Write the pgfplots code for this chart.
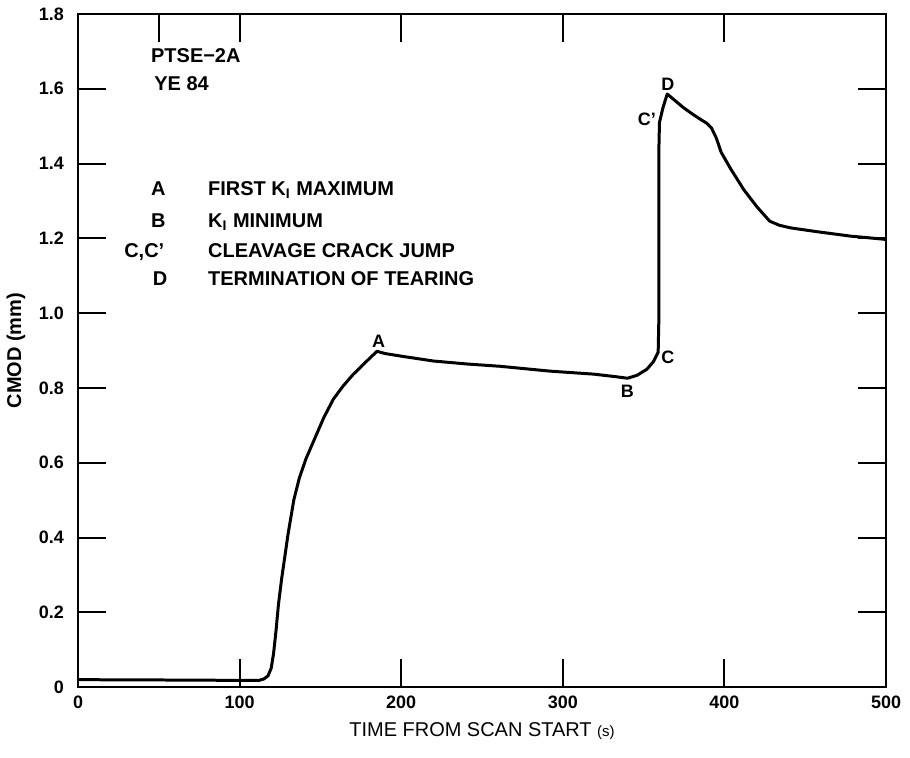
\documentclass[border=0pt]{standalone}
\usepackage{fontspec}
\setmainfont{Liberation Sans}
\usepackage{pgfplots}
\usepackage{pgfplotstable}
\pgfplotsset{compat=1.18}
\pgfplotstableread{
t v
0 0.02
60 0.019
105 0.018
112 0.018
115 0.022
117.5 0.03
119.5 0.05
121 0.09
122.5 0.15
124 0.22
126 0.29
128 0.35
130 0.41
133.5 0.50
137 0.56
141 0.61
146 0.66
152 0.72
158 0.77
164 0.805
170 0.835
177 0.865
185 0.898
190 0.892
200 0.885
220 0.872
241 0.864
261 0.858
292 0.845
319 0.837
333 0.830
340 0.826
346 0.834
352 0.850
356 0.870
359 0.896
359.5 1.00
359.5 1.45
359.8 1.51
362 1.55
364.6 1.586
369 1.57
374.5 1.55
381 1.53
386 1.516
389 1.508
392 1.495
395 1.468
398 1.43
404 1.385
412 1.33
420 1.285
428 1.246
434 1.235
441 1.228
457 1.218
478 1.206
498 1.198
500 1.197
}\cmod
\begin{document}
\begin{tikzpicture}
\begin{axis}[
  name=main,
  scale only axis,
  width=404.5pt, height=337pt,
  xmin=0, xmax=500, ymin=0, ymax=1.8,
  xtick={0,100,200,300,400,500},
  ytick={0,0.2,0.4,0.6,0.8,1.0,1.2,1.4,1.6,1.8},
  yticklabels={0,0.2,0.4,0.6,0.8,1.0,1.2,1.4,1.6,1.8},
  xtick pos=left, ytick pos=both,
  tick align=inside,
  major tick length=14pt,
  axis line style={line width=1.3pt},
  tick style={line width=1pt, black},
  /pgf/number format/assume math mode=true,
  ticklabel style={font=\fontsize{9}{10}\selectfont\bfseries},
  yticklabel style={xshift=-3.5pt},
  xticklabel style={yshift=-1pt},
  xlabel={TIME FROM SCAN START {\fontsize{7.5}{9}\selectfont(s)}},
  ylabel={\bfseries CMOD (mm)},
  label style={font=\fontsize{10}{12}\selectfont},
  clip=false,
]
\addplot[black, line width=1.5pt, line join=round] table[x=t, y=v] {\cmod};
\node[font=\fontsize{9}{10}\selectfont\bfseries] at (axis cs:186,0.925) {A};
\node[font=\fontsize{9}{10}\selectfont\bfseries] at (axis cs:340,0.79) {B};
\node[font=\fontsize{9}{10}\selectfont\bfseries] at (axis cs:365,0.882) {C};
\node[font=\fontsize{9}{10}\selectfont\bfseries] at (axis cs:352,1.519) {C'};
\node[font=\fontsize{9}{10}\selectfont\bfseries] at (axis cs:365,1.612) {D};
\node[anchor=base west, inner sep=0pt, font=\fontsize{10}{12}\selectfont\bfseries] at (axis cs:45,1.671) {PTSE−2A};
\node[anchor=base west, inner sep=0pt, font=\fontsize{10}{12}\selectfont\bfseries] at (axis cs:47,1.596) {YE 84};
\node[anchor=base west, inner sep=0pt, font=\fontsize{10}{12}\selectfont\bfseries] at (axis cs:45,1.315) {A};
\node[anchor=base west, inner sep=0pt, font=\fontsize{10}{12}\selectfont\bfseries] at (axis cs:45,1.230) {B};
\node[anchor=base west, inner sep=0pt, font=\fontsize{10}{12}\selectfont\bfseries] at (axis cs:28.4,1.150) {C,C'};
\node[anchor=base west, inner sep=0pt, font=\fontsize{10}{12}\selectfont\bfseries] at (axis cs:46,1.075) {D};
\node[anchor=base west, inner sep=0pt, font=\fontsize{10}{12}\selectfont\bfseries] at (axis cs:80.3,1.315) {FIRST K\textsubscript{I} MAXIMUM};
\node[anchor=base west, inner sep=0pt, font=\fontsize{10}{12}\selectfont\bfseries] at (axis cs:80.3,1.230) {K\textsubscript{I} MINIMUM};
\node[anchor=base west, inner sep=0pt, font=\fontsize{10}{12}\selectfont\bfseries] at (axis cs:80.3,1.150) {CLEAVAGE CRACK JUMP};
\node[anchor=base west, inner sep=0pt, font=\fontsize{10}{12}\selectfont\bfseries] at (axis cs:80.3,1.075) {TERMINATION OF TEARING};
\end{axis}
\begin{axis}[
  at={(main.south west)}, anchor=south west,
  scale only axis,
  width=404.5pt, height=337pt,
  xmin=0, xmax=500, ymin=0, ymax=1.8,
  hide y axis,
  xtick={50,100,200,300,400},
  xticklabels={},
  xtick pos=right,
  tick align=inside,
  major tick length=14pt,
  axis line style={line width=1.3pt},
  tick style={line width=1pt, black},
]
\end{axis}
\path ([xshift=-38.5pt,yshift=-35pt]main.south west) rectangle ([xshift=12pt,yshift=7pt]main.north east);
\end{tikzpicture}
\end{document}
